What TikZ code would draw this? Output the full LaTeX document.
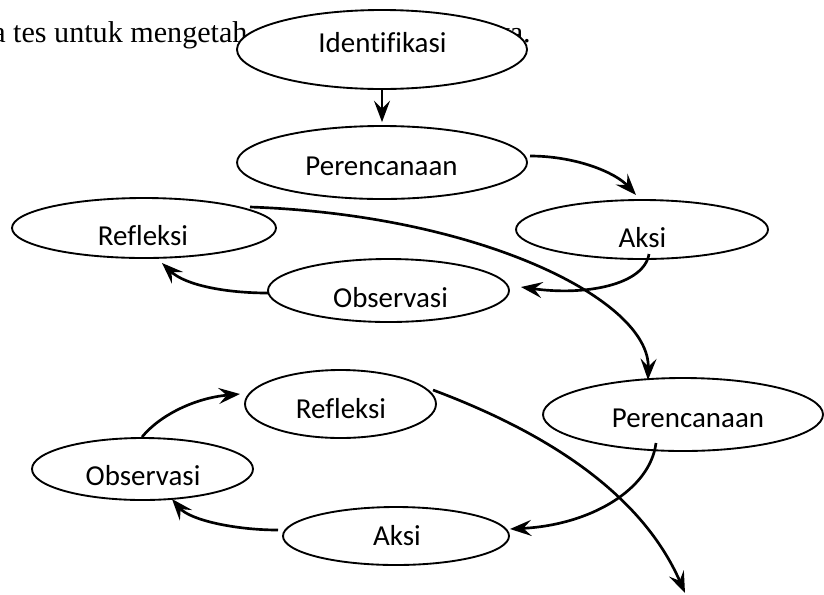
\documentclass[tikz,border=0pt]{standalone}
\usepackage{fontspec}
\setmainfont{Carlito}[Ligatures=NoCommon]
\newfontfamily\bgserif{Liberation Serif}
\usetikzlibrary{shapes.geometric,arrows.meta,calc}
\tikzset{
  oval/.style 2 args={ellipse, draw, fill=white, line width=1.4pt, inner sep=0pt,
    minimum width=#1*1.5pt, minimum height=#2*1.5pt},
  lbl/.style={font=\fontsize{21.7}{26}\selectfont, anchor=base, inner sep=0pt},
  bgtext/.style={font=\bgserif\fontsize{22.6}{27}\selectfont, inner sep=0pt},
  arr/.style={line width=2pt, -{Stealth[length=16pt, width=12pt, inset=6pt]}},
  thinarr/.style={line width=1.2pt, -{Stealth[length=16pt, width=12pt, inset=6pt]}}
}
\begin{document}
\begin{tikzpicture}[x=0.75pt, y=-0.75pt]
\useasboundingbox (0,0) rectangle (824,594);
% background running text
\node[bgtext, anchor=base west] (bgl) at (-8,42) {a tes untuk mengetah};
\node[bgtext, anchor=base east] (bgr) at (531,42) {ya.};
% ellipses
\node[oval={145}{39.5}] (ident) at (382,49.5) {};
\node[oval={145}{36.5}] (per1) at (382,162.5) {};
\node[oval={126}{29.5}] (aksi1) at (642,229.5) {};
\node[oval={132}{30}] (ref1) at (144,228) {};
\node[oval={120.5}{31.5}] (obs1) at (388.5,290.5) {};
\node[oval={140}{36.5}] (per2) at (683,414.5) {};
\node[oval={95.5}{34}] (ref2) at (340.5,404) {};
\node[oval={110.5}{31}] (obs2) at (142.5,469) {};
\node[oval={113}{29}] (aksi2) at (396,536) {};
% labels
\node[lbl] (identT) at (382.5,52) {Identifikasi};
\node[lbl] (per1T) at (381.5,175) {Perencanaan};
\node[lbl] (aksi1T) at (642.5,247) {Aksi};
\node[lbl] (ref1T) at (143,245) {Refleksi};
\node[lbl] (obs1T) at (390.5,307) {Observasi};
\node[lbl] (per2T) at (688,427) {Perencanaan};
\node[lbl] (ref2T) at (341,418) {Refleksi};
\node[lbl] (obs2T) at (143,485) {Observasi};
\node[lbl] (aksi2T) at (397,545) {Aksi};
\coordinate (endpt) at (685,593);
% connectors
\draw[thinarr] (ident.south) -- ($(per1.north)+(0,-3)$);
\draw[arr] ($(per1)+(148,-6.5)$) .. controls +(45,0) and +(-21,-23) .. ($(aksi1)+(-6,-34.5)$);
\draw[arr] ($(aksi1)+(7,24.5)$) .. controls +(-5,31) and +(64,9) .. ($(obs1)+(132.5,-3.5)$);
\draw[arr] ($(obs1)+(-120.5,2.5)$) .. controls +(-43,0) and +(23,22) .. ($(ref1)+(18,35)$);
\draw[arr] ($(ref1)+(106,-21)$) .. controls +(230,8) and +(2,-80) .. ($(per2)+(-35,-34.5)$);
\draw[arr] ($(per2)+(-27,28.5)$) .. controls +(-6,47) and +(80,-4) .. ($(aksi2)+(114,-7)$);
\draw[arr] ($(aksi2)+(-118,-6)$) .. controls +(-43,0) and +(18,21) .. ($(obs2)+(29.5,30)$);
\draw[arr] ($(obs2)+(-0.5,-32)$) .. controls +(18,-22) and +(-45,4) .. ($(ref2)+(-100.5,-10)$);
\draw[arr] ($(ref2)+(92.5,-14)$) .. controls +(107,40) and +(-45,-103) .. (endpt);
\end{tikzpicture}
\end{document}
